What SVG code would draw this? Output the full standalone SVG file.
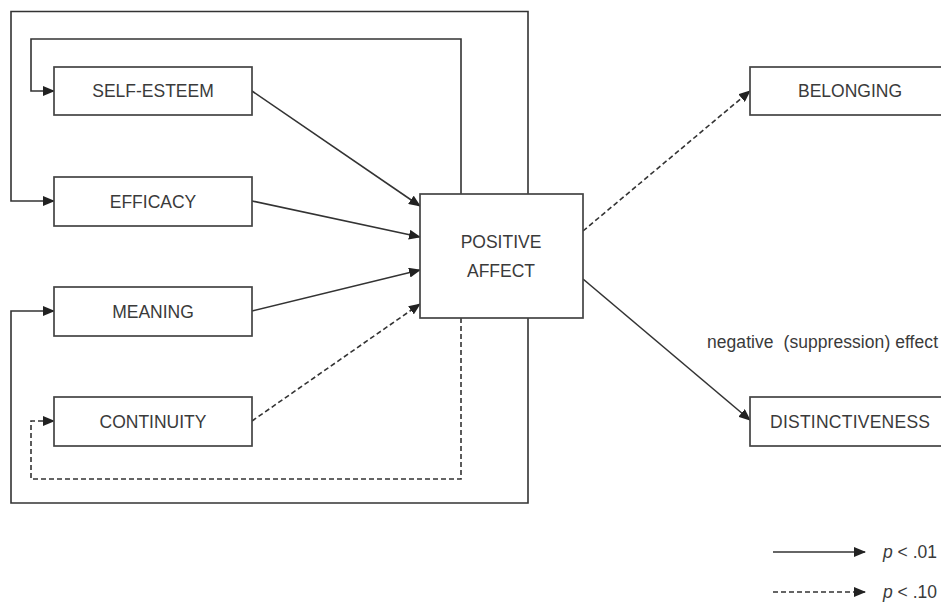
<svg xmlns="http://www.w3.org/2000/svg" width="941" height="606" viewBox="0 0 941 606">
<defs>
<marker id="ah" markerUnits="userSpaceOnUse" markerWidth="12" markerHeight="10" refX="11" refY="5" orient="auto">
<path d="M0,0 L12,5 L0,10 Z" fill="#222"/>
</marker>
<style>
.box{fill:#fff;stroke:#444;stroke-width:1.7}
.lbl{font-family:"Liberation Sans",Arial,sans-serif;font-size:17.5px;fill:#3a3a3a;text-anchor:middle}
.ln{fill:none;stroke:#333;stroke-width:1.6}
.arr{marker-end:url(#ah)}
.dash{stroke-dasharray:5,3}
.note{font-family:"Liberation Sans",Arial,sans-serif;font-size:17.5px;fill:#3a3a3a}
</style>
</defs>
<rect width="941" height="606" fill="#fff"/>
<g id="connectors">
<polyline class="ln arr" points="528,194 528,11.5 11,11.5 11,201 54,201"/>
<polyline class="ln arr" points="528,318 528,503 11,503 11,311 54,311"/>
<polyline class="ln arr" points="461,194 461,39 31,39 31,91 54,91"/>
<polyline class="ln arr dash" points="461,318 461,479 31,479 31,421 54,421"/>
<line class="ln arr" x1="252" y1="91" x2="420" y2="206"/>
<line class="ln arr" x1="252" y1="201" x2="420" y2="237"/>
<line class="ln arr" x1="252" y1="311" x2="420" y2="270"/>
<line class="ln arr dash" x1="252" y1="421" x2="420" y2="304"/>
<line class="ln arr dash" x1="583" y1="231" x2="750" y2="91"/>
<line class="ln arr" x1="583" y1="279" x2="750" y2="420"/>
</g>
<g id="self-esteem"><rect class="box" x="54" y="67" width="198" height="48"/><text class="lbl" x="153" y="97">SELF-ESTEEM</text></g>
<g id="efficacy"><rect class="box" x="54" y="177" width="198" height="49"/><text class="lbl" x="153" y="207.5">EFFICACY</text></g>
<g id="meaning"><rect class="box" x="54" y="287" width="198" height="49"/><text class="lbl" x="153" y="317.5">MEANING</text></g>
<g id="continuity"><rect class="box" x="54" y="397" width="198" height="49"/><text class="lbl" x="153" y="427.5">CONTINUITY</text></g>
<g id="positive-affect"><rect class="box" x="420" y="194" width="163" height="124"/><text class="lbl" x="501" y="248">POSITIVE</text><text class="lbl" x="501" y="277">AFFECT</text></g>
<g id="belonging"><rect class="box" x="750" y="67" width="210" height="48"/><text class="lbl" x="850" y="97">BELONGING</text></g>
<g id="distinctiveness"><rect class="box" x="750" y="397" width="210" height="49"/><text class="lbl" x="850" y="428" textLength="160">DISTINCTIVENESS</text></g>
<text class="note" x="707" y="348" textLength="231" xml:space="preserve">negative  (suppression) effect</text>
<g id="legend">
<line class="ln arr" x1="773" y1="552" x2="865" y2="552"/>
<line class="ln arr dash" x1="773" y1="592" x2="865" y2="592"/>
<text class="note" x="883" y="558"><tspan font-style="italic">p</tspan> &lt; .01</text>
<text class="note" x="883" y="598"><tspan font-style="italic">p</tspan> &lt; .10</text>
</g>
</svg>
